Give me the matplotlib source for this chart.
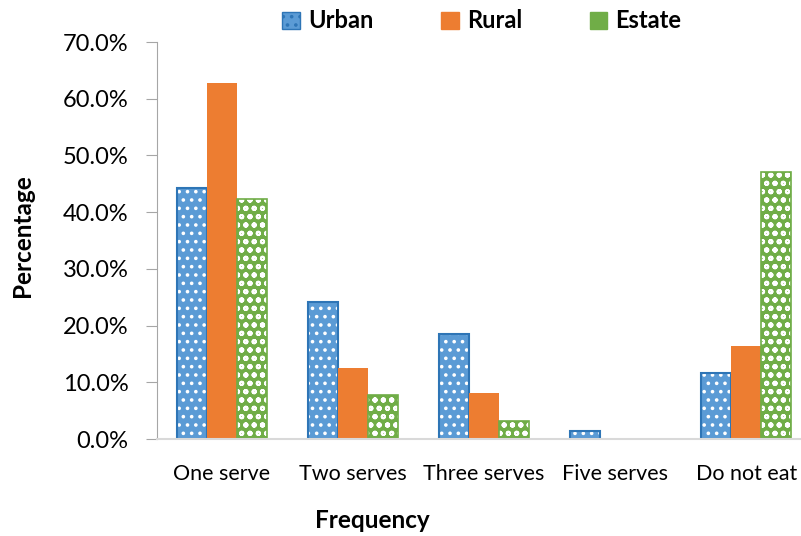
import matplotlib.pyplot as plt
from matplotlib.patches import Patch
from matplotlib.ticker import FuncFormatter, MultipleLocator
import numpy as np

categories = ["One serve", "Two serves", "Three serves", "Five serves", "Do not eat"]
urban = [44.3, 24.2, 18.5, 1.4, 11.6]
rural = [62.8, 12.5, 8.1, 0.0, 16.4]
estate = [42.3, 7.8, 3.1, 0.0, 47.1]

BLUE = "#5B9BD5"
BLUE_EDGE = "#2E75B6"
ORANGE = "#ED7D31"
GREEN = "#70AD47"

plt.rcParams.update(
    {
        "font.family": ["Lato", "DejaVu Sans"],
        "hatch.linewidth": 1.4,
    }
)

fig = plt.figure(figsize=(8.01, 5.36), dpi=100)
ax = fig.add_axes([156.5 / 801, 97 / 536, (800 - 156.5) / 801, 397 / 536])

x = np.arange(len(categories))
w = 0.229

# Urban: blue with white dots and a darker outline
ax.bar(x - w, urban, w, color=BLUE, edgecolor="white", linewidth=0, hatch="..")
ax.bar(x - w, urban, w, fill=False, edgecolor=BLUE_EDGE, linewidth=1.5)
ax.bar(x, rural, w, color=ORANGE, linewidth=0)
# Estate: green with small white marks
ax.bar(x + w, estate, w, color=GREEN, edgecolor="white", linewidth=0, hatch="oo")
ax.bar(x + w, estate, w, fill=False, edgecolor=GREEN, linewidth=1.2)

ax.set_xlim(-0.5, 4.41)
ax.set_ylim(0, 70)
ax.yaxis.set_major_locator(MultipleLocator(10))
ax.yaxis.set_major_formatter(FuncFormatter(lambda v, p: f"{v:.1f}%"))
ax.set_xticks(x)
ax.set_xticklabels(categories)

for side in ["top", "right"]:
    ax.spines[side].set_visible(False)
ax.spines["left"].set_color("#A6A6A6")
ax.spines["bottom"].set_color("#D9D9D9")
ax.spines["bottom"].set_linewidth(1.5)
ax.tick_params(axis="y", colors="#A6A6A6", labelcolor="black", labelsize=17,
               length=8, pad=12)
ax.tick_params(axis="x", length=0, labelsize=15.5, pad=18)

fig.text(22 / 801, 1 - 236 / 536, "Percentage", rotation=90, ha="center",
         va="center", fontsize=17.5, fontweight="bold")
fig.text(372 / 801, 1 - 520 / 536, "Frequency", ha="center", va="center",
         fontsize=17.5, fontweight="bold")

handles = [
    Patch(facecolor=BLUE, edgecolor=BLUE_EDGE, hatch=".."),
    Patch(facecolor=ORANGE, edgecolor=ORANGE),
    Patch(facecolor=GREEN, edgecolor=GREEN, hatch="oo"),
]
fig.legend(handles, ["Urban", "Rural", "Estate"], loc="center",
           bbox_to_anchor=(482 / 801, 1 - 21 / 536), ncol=3, frameon=False,
           prop={"weight": "bold", "size": 17}, handlelength=0.75,
           handleheight=0.75, handletextpad=0.35, columnspacing=2.85)

fig.savefig("out.png", dpi=100)
